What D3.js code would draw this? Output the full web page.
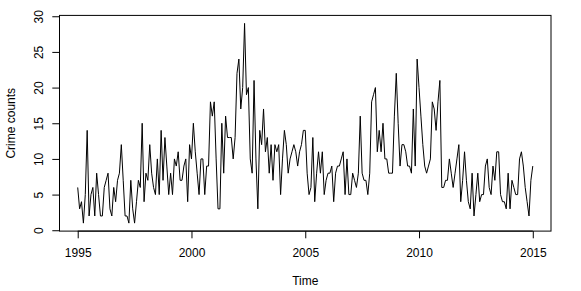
<!DOCTYPE html>
<html>
<head>
<meta charset="utf-8">
<script src="https://cdn.jsdelivr.net/npm/d3@7"></script>
<style>
  html, body { margin: 0; padding: 0; background: #fff; }
  svg text { font-family: "Liberation Sans", Arial, Helvetica, sans-serif; font-size: 12px; fill: #000; }
</style>
</head>
<body>
<svg id="chart" width="581" height="291"></svg>
<script>
// ---- data ----
const startYear = 1995;
const frequency = 12;
const counts = [
  6, 3, 4, 1, 5, 14, 2, 5, 6, 2, 8, 5,
  2, 2, 6, 7, 8, 3, 2, 6, 4, 7, 8, 12,
  7, 2, 2, 1, 7, 3, 1, 4, 7, 6, 15, 4,
  8, 7, 12, 8, 6, 5, 10, 5, 14, 7, 13, 9,
  5, 8, 5, 10, 9, 11, 7, 7, 9, 10, 4, 12,
  10, 15, 11, 8, 5, 10, 10, 5, 9, 9, 18, 16,
  18, 10, 3, 3, 15, 8, 16, 13, 13, 13, 10, 13,
  22, 24, 17, 20, 29, 19, 20, 10, 8, 21, 10, 3,
  14, 12, 17, 11, 13, 8, 12, 7, 12, 11, 12, 5,
  10, 14, 12, 8, 10, 11, 12, 11, 9, 11, 12, 14,
  14, 8, 5, 6, 13, 4, 8, 11, 8, 11, 5, 7,
  8, 8, 9, 4, 8, 9, 9, 10, 11, 5, 10, 5,
  5, 8, 7, 6, 8, 16, 8, 7, 7, 5, 8, 18,
  19, 20, 11, 14, 11, 15, 10, 10, 8, 8, 8, 16,
  22, 15, 9, 12, 12, 11, 9, 9, 8, 17, 9, 24,
  20, 16, 12, 9, 8, 9, 10, 18, 17, 14, 18, 21,
  6, 6, 7, 7, 10, 8, 6, 8, 10, 12, 4, 7,
  11, 7, 4, 3, 8, 2, 5, 8, 4, 5, 5, 9,
  10, 6, 5, 9, 7, 11, 11, 5, 4, 4, 3, 8,
  3, 7, 6, 5, 5, 10, 11, 9, 6, 4, 2, 7,
  9
];
const xTicks = [1995, 2000, 2005, 2010, 2015];
const yTicks = [0, 5, 10, 15, 20, 25, 30];
const xLabel = "Time";
const yLabel = "Crime counts";

// ---- layout ----
const svg = d3.select("#chart");
const times = counts.map((d, i) => startYear + i / frequency);
const tMin = d3.min(times), tMax = d3.max(times);
const vMin = d3.min(counts), vMax = d3.max(counts);
const xPad = (tMax - tMin) * 0.04, yPad = (vMax - vMin) * 0.04;

const box = { left: 59.5, right: 551, top: 15.4, bottom: 231.1 };

const x = d3.scaleLinear().domain([tMin - xPad, tMax + xPad]).range([box.left, box.right]);
const y = d3.scaleLinear().domain([vMin - yPad, vMax + yPad]).range([box.bottom, box.top]);

// plot box
svg.append("rect")
  .attr("x", box.left).attr("y", box.top)
  .attr("width", box.right - box.left).attr("height", box.bottom - box.top)
  .attr("fill", "none").attr("stroke", "#000").attr("stroke-width", 1);

// line
const line = d3.line().x((d, i) => x(times[i])).y(d => y(d));
svg.append("path").datum(counts)
  .attr("d", line)
  .attr("fill", "none").attr("stroke", "#000").attr("stroke-width", 1)
  .attr("stroke-linejoin", "round");

// x axis
const xAxis = d3.axisBottom(x).tickValues(xTicks).tickFormat(d3.format("d")).tickSize(7.2).tickPadding(5);
const gx = svg.append("g").attr("transform", `translate(0,${box.bottom})`).call(xAxis);
gx.select(".domain").attr("d", `M${x(xTicks[0])},0H${x(xTicks[xTicks.length - 1])}`).attr("stroke", "#000");
gx.selectAll(".tick line").attr("stroke", "#000");
gx.selectAll(".tick text").attr("font-size", 12).attr("font-family", null).attr("dy", null).attr("y", 26.4);

// y axis
const yAxis = d3.axisLeft(y).tickValues(yTicks).tickSize(7.2);
const gy = svg.append("g").attr("transform", `translate(${box.left},0)`).call(yAxis);
gy.select(".domain").attr("d", `M0,${y(yTicks[0])}V${y(yTicks[yTicks.length - 1])}`).attr("stroke", "#000");
gy.selectAll(".tick line").attr("stroke", "#000");
gy.selectAll(".tick text")
  .attr("font-size", 12).attr("font-family", null)
  .attr("x", null).attr("dy", null)
  .attr("text-anchor", "middle")
  .attr("transform", "translate(-16.6,0) rotate(-90)");

// axis titles
svg.append("text")
  .attr("x", (box.left + box.right) / 2).attr("y", 285)
  .attr("text-anchor", "middle").text(xLabel);
svg.append("text")
  .attr("transform", `translate(15,${(box.top + box.bottom) / 2}) rotate(-90)`)
  .attr("text-anchor", "middle").text(yLabel);
</script>
</body>
</html>
